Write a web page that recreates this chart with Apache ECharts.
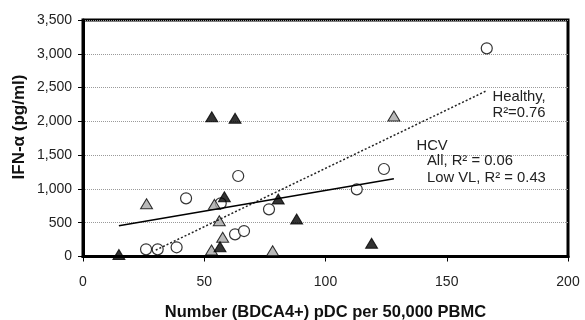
<!DOCTYPE html>
<html>
<head>
<meta charset="utf-8">
<script src="https://cdn.jsdelivr.net/npm/echarts@6/dist/echarts.min.js"></script>
<style>
  html, body { margin: 0; padding: 0; background: #fff; }
  #chart { width: 585px; height: 320px; }
</style>
</head>
<body>
<div id="chart"></div>
<script>
// pDC count (x) vs IFN-alpha (y)
const healthyPoints = [
  [26, 106], [30.8, 106], [38.6, 136], [42.5, 861], [56.8, 787], [62.7, 328],
  [64, 1191], [66.4, 377], [76.7, 698], [112.9, 994], [124.1, 1295], [166.5, 3081]
];
const hcvBlack = [
  [14.8, 30], [53.1, 2069], [62.7, 2045], [58.3, 885], [56.5, 145],
  [80.5, 851], [88.1, 555], [119, 195]
];
const hcvGray = [
  [26.2, 780], [54.2, 772], [56.2, 530], [57.6, 284], [53, 96], [78.2, 86], [128.2, 2079]
];
// fitted trend lines (end points)
const healthyFit = [[30, 95], [166.5, 2454]];
const hcvFit = [[14.8, 456], [128.2, 1150]];

const xTicks = { min: 0, max: 200, step: 50 };
const yTicks = { min: 0, max: 3500, step: 500 };

const annotations = [
  { text: 'Healthy,', left: 492.5, y: 97 },
  { text: 'R\u00B2=0.76', left: 492.5, y: 113 },
  { text: 'HCV', left: 416.5, y: 146 },
  { text: 'All, R\u00B2 = 0.06', left: 427, y: 161 },
  { text: 'Low VL, R\u00B2 = 0.43', left: 427, y: 178 }
];

const FONT = '"Liberation Sans", Arial, sans-serif';
const chart = echarts.init(document.getElementById('chart'), null, { renderer: 'canvas' });

chart.setOption({
  animation: false,
  backgroundColor: '#fff',
  grid: {
    left: 83, right: 17, top: 20, bottom: 63.5,
    outerBoundsMode: 'none', containLabel: false,
    show: true, borderColor: '#000', borderWidth: 3, backgroundColor: 'transparent'
  },
  xAxis: {
    type: 'value', min: xTicks.min, max: xTicks.max, interval: xTicks.step,
    name: 'Number (BDCA4+) pDC per 50,000 PBMC',
    nameLocation: 'middle', nameGap: 47,
    nameTextStyle: { fontFamily: FONT, fontSize: 16.5, fontWeight: 'bold', color: '#111' },
    axisLine: { show: true, lineStyle: { color: '#000', width: 3 } },
    axisTick: { show: true, inside: false, length: 5, lineStyle: { color: '#000', width: 1 } },
    axisLabel: { margin: 19, fontFamily: FONT, fontSize: 14, color: '#222' },
    splitLine: { show: false }
  },
  yAxis: {
    type: 'value', min: yTicks.min, max: yTicks.max, interval: yTicks.step,
    axisLine: { show: true, lineStyle: { color: '#000', width: 3 } },
    axisTick: { show: true, inside: false, length: 5, lineStyle: { color: '#000', width: 1 } },
    axisLabel: {
      margin: 11, fontFamily: FONT, fontSize: 14, color: '#222',
      formatter: v => v.toLocaleString('en-US')
    },
    splitLine: { show: true, lineStyle: { color: '#9a9a9a', type: 'dotted', width: 1 } }
  },
  graphic: [
    {
      type: 'text', x: 19, y: 127, rotation: Math.PI / 2,
      style: {
        text: 'IFN-\u03B1 (pg/ml)', fontFamily: FONT, fontSize: 17, fontWeight: 'bold',
        fill: '#111', align: 'center', verticalAlign: 'middle'
      }
    },
    ...annotations.map(a => ({
      type: 'text', x: a.left, y: a.y, z: 10,
      style: {
        text: a.text, fontFamily: FONT, fontSize: 14.8, fill: '#222',
        align: 'left', verticalAlign: 'middle'
      }
    }))
  ],
  series: [
    {
      type: 'line', data: healthyFit, symbol: 'none', silent: true,
      lineStyle: { color: '#222', width: 1.5, type: [2, 2] }
    },
    {
      type: 'line', data: hcvFit, symbol: 'none', silent: true,
      lineStyle: { color: '#000', width: 1.5 }
    },
    {
      type: 'scatter', data: healthyPoints, symbol: 'circle', symbolSize: 11,
      itemStyle: { color: '#fff', borderColor: '#000', borderWidth: 1.2 }
    },
    {
      type: 'scatter', data: hcvGray, symbol: 'triangle', symbolSize: [12, 10],
      itemStyle: { color: '#a8a8a8', borderColor: '#000', borderWidth: 1 }
    },
    {
      type: 'scatter', data: hcvBlack, symbol: 'triangle', symbolSize: [12, 10],
      itemStyle: { color: '#000', borderColor: '#000', borderWidth: 1 }
    }
  ]
});
</script>
</body>
</html>
